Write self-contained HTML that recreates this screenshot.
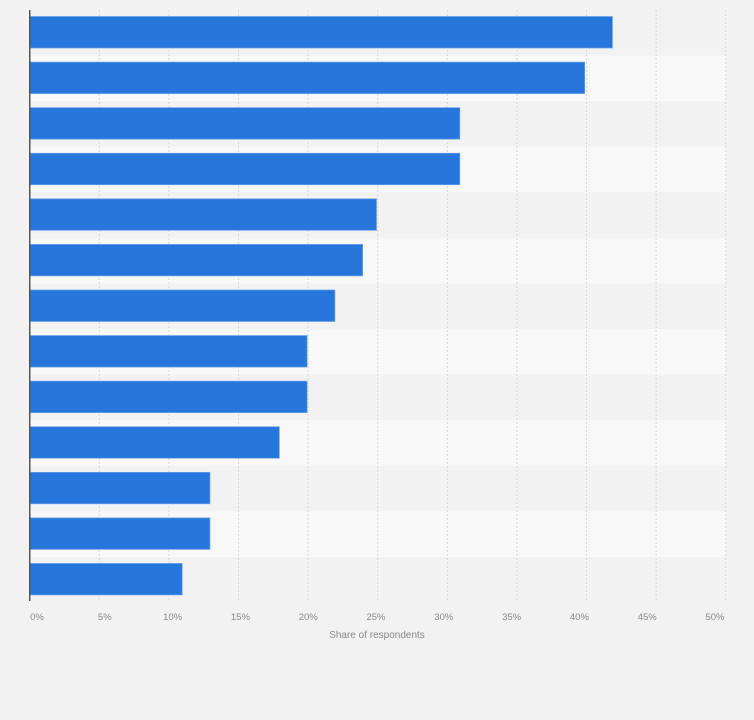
<!DOCTYPE html>
<html><head><style>
body{margin:0;background:#f2f2f2;}
svg{display:block;font-family:"Liberation Sans",sans-serif;}
</style></head><body>
<svg width="754" height="720" xmlns="http://www.w3.org/2000/svg">
<rect width="754" height="720" fill="#f2f2f2"/>
<g id="bands"></g>
<g id="grid"></g>
<g id="bars"></g>
<rect x="29" y="10" width="1.5" height="591" fill="#555"/>
<g id="labels" font-size="9.5" fill="#888" text-anchor="middle"></g>
<text x="377" y="638" font-size="10" fill="#888" text-anchor="middle">Share of respondents</text>
</svg>
<script>
const ns="http://www.w3.org/2000/svg";
function el(t,a,p){const e=document.createElementNS(ns,t);for(const k in a)e.setAttribute(k,a[k]);document.getElementById(p).appendChild(e);return e;}
const vals=[42,40,31,31,25,24,22,20,20,18,13,13,11];
const x0=29.7,s=13.88,rh=45.58;
for(let i=0;i<13;i++){
 el('rect',{x:30,y:10+i*rh,width:696,height:rh,fill:i%2?'#f8f8f8':'#f2f2f2'},'bands');
}
for(let k=1;k<=10;k++){
 const x=x0+k*5*13.92;
 el('line',{x1:x,x2:x,y1:10,y2:601,stroke:'#d8d8d8','stroke-dasharray':'2,2','stroke-width':1},'grid');
}
vals.forEach((v,i)=>{
 el('rect',{x:30,y:16.5+i*rh,width:v*s-0.5,height:31.5,fill:'#2776dc',stroke:'#6aa0e8','stroke-width':0.7},'bars');
});
for(let k=0;k<=10;k++){
 const t=el('text',{x:37+k*67.8,y:620},'labels');t.textContent=(k*5)+'%';
}
</script>
</body></html>
